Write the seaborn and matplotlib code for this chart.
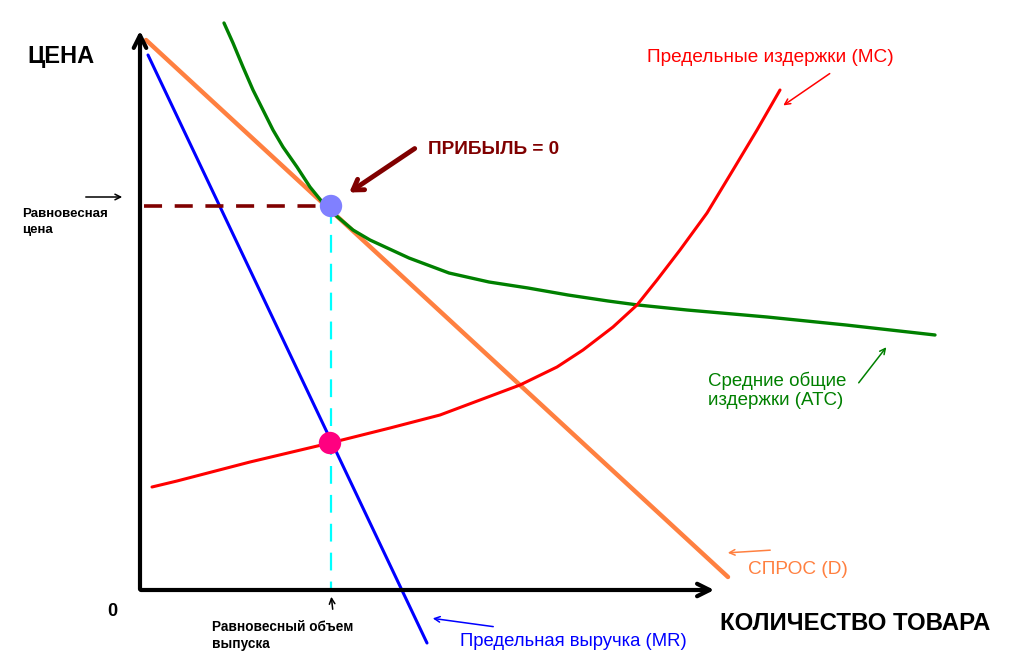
import numpy as np
import pandas as pd
import matplotlib
matplotlib.use("Agg")
import matplotlib.pyplot as plt
import seaborn as sns

# Значения: Q - количество, P - цена (условные единицы)
demand_q = [6, 588]
demand_p = [550, 13]

mr_q = [8, 287]
mr_p = [535, -53]

atc_q = [84, 93, 103, 113, 123, 133, 143, 157, 170, 183, 193, 213, 230, 269, 309, 349,
         388, 428, 468, 498, 547, 627, 706, 795]
atc_p = [567, 547, 523, 500, 480, 460, 443, 423, 403, 387, 377, 360, 350, 332, 317, 308,
         302, 295, 289, 285, 280, 273, 265, 255]

mc_q = [12, 37, 110, 190, 250, 300, 340, 380, 417, 443, 473, 497, 517, 540, 567, 593, 617, 640]
mc_p = [103, 109, 128, 147, 162, 175, 190, 205, 223, 240, 263, 285, 310, 340, 377, 420, 460, 500]

q_eq = 191
p_eq = 384
mc_at_eq = 147

sns.set_style("white")
plt.rcParams['font.family'] = ['Liberation Sans', 'DejaVu Sans']
plt.rcParams['text.color'] = 'black'

fig = plt.figure(figsize=(10.09, 6.6), dpi=100)
ax = fig.add_axes([0, 0, 1, 1])
ax.set_xlim(-140, 869)
ax.set_ylim(-70, 590)
ax.axis('off')

# оси координат
ax.annotate('', xy=(0, 562), xytext=(0, -2),
            arrowprops=dict(arrowstyle='->,head_length=0.9,head_width=0.45', lw=3, color='black'))
ax.annotate('', xy=(577, 0), xytext=(-2, 0),
            arrowprops=dict(arrowstyle='->,head_length=0.9,head_width=0.45', lw=3, color='black'))

# кривые
sns.lineplot(x=demand_q, y=demand_p, ax=ax, color='#ff8040', lw=3.2, sort=False, estimator=None)
sns.lineplot(x=mr_q, y=mr_p, ax=ax, color='#0000ff', lw=2.2, sort=False, estimator=None)
sns.lineplot(x=atc_q, y=atc_p, ax=ax, color='#008000', lw=2.4, sort=False, estimator=None)
sns.lineplot(x=mc_q, y=mc_p, ax=ax, color='#ff0000', lw=2.2, sort=False, estimator=None)

# пунктиры равновесия
ax.plot([4, q_eq], [p_eq, p_eq], color='#800000', lw=2.6, dashes=(5, 3.5))
ax.plot([q_eq, q_eq], [p_eq, 0], color='#00ffff', lw=1.6, dashes=(8, 5))

# точки
sns.scatterplot(x=[q_eq], y=[p_eq], ax=ax, color='#8080ff', s=260, edgecolor='none', zorder=5)
sns.scatterplot(x=[q_eq - 1], y=[mc_at_eq], ax=ax, color='#ff0080', s=260, edgecolor='none', zorder=5)

# подписи
ax.text(-113, 533, 'ЦЕНА', fontsize=17, fontweight='bold', va='center', ha='left')
ax.text(580, -33, 'КОЛИЧЕСТВО ТОВАРА', fontsize=17.3, fontweight='bold', va='center', ha='left')
ax.text(-33, -22, '0', fontsize=13, fontweight='bold', va='center', ha='left')

ax.text(-118, 382, 'Равновесная\nцена', fontsize=9.5, fontweight='bold', va='top', ha='left',
        linespacing=1.45)
ax.annotate('', xy=(-15, 393), xytext=(-57, 393),
            arrowprops=dict(arrowstyle='->', lw=1.1, color='black'))

ax.text(72, -30, 'Равновесный объем\nвыпуска', fontsize=9.8, fontweight='bold', va='top', ha='left',
        linespacing=1.3)
ax.annotate('', xy=(191, -4), xytext=(193, -22),
            arrowprops=dict(arrowstyle='->', lw=1.1, color='black'))

ax.text(288, 440, 'ПРИБЫЛЬ = 0', fontsize=13.7, fontweight='bold', color='#800000',
        va='center', ha='left')
ax.annotate('', xy=(207, 396), xytext=(277, 443),
            arrowprops=dict(arrowstyle='->,head_length=0.7,head_width=0.45', lw=3.5, color='#800000'))

ax.text(507, 532, 'Предельные издержки (MC)', fontsize=13.7, color='#ff0000', va='center', ha='left')
ax.annotate('', xy=(641, 483), xytext=(692, 518),
            arrowprops=dict(arrowstyle='->', lw=1.1, color='#ff0000'))

ax.text(568, 200, 'Средние общие\nиздержки (ATC)', fontsize=13.5, color='#008000',
        va='center', ha='left', linespacing=1.15)
ax.annotate('', xy=(748, 245), xytext=(717, 205),
            arrowprops=dict(arrowstyle='->', lw=1.1, color='#008000'))

ax.text(608, 20, 'СПРОС (D)', fontsize=13.7, color='#ff8040', va='center', ha='left')
ax.annotate('', xy=(585, 37), xytext=(633, 40),
            arrowprops=dict(arrowstyle='->', lw=1.1, color='#ff8040'))

ax.text(320, -52, 'Предельная выручка (MR)', fontsize=13.3, color='#0000ff', va='center', ha='left')
ax.annotate('', xy=(290, -28), xytext=(356, -37),
            arrowprops=dict(arrowstyle='->', lw=1.1, color='#0000ff'))

fig.savefig('out.png', dpi=100)
